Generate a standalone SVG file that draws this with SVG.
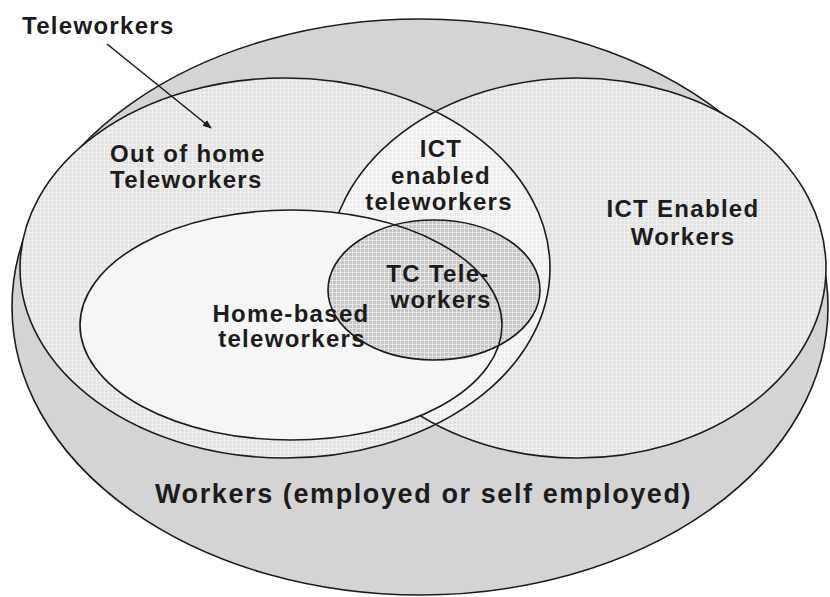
<svg xmlns="http://www.w3.org/2000/svg" width="830" height="597" viewBox="0 0 830 597">
<style>
.ln{fill:none;stroke:#1c1c1c;stroke-width:1.6}
.t{font-family:"Liberation Sans",Arial,sans-serif;font-weight:bold;font-size:24px;fill:#1c1c1c;letter-spacing:1.3px}
.c{text-anchor:middle}
</style>
<defs>
<pattern id="grid" width="4" height="4" patternUnits="userSpaceOnUse">
<rect width="4" height="4" fill="#e2e2e2"/>
<path d="M0 0.5H4M0.5 0V4" stroke="#f0f0f0" stroke-width="1"/>
</pattern>
<pattern id="gridLight" width="4" height="4" patternUnits="userSpaceOnUse">
<rect width="4" height="4" fill="#eeeeee"/>
<path d="M0 0.5H4M0.5 0V4" stroke="#f8f8f8" stroke-width="1"/>
</pattern>
<pattern id="gridDark" width="4" height="4" patternUnits="userSpaceOnUse">
<rect width="4" height="4" fill="#c6c6c6"/>
<path d="M0 0.5H4M0.5 0V4" stroke="#e6e6e6" stroke-width="1"/>
</pattern>
<clipPath id="clipTele"><ellipse cx="285" cy="268" rx="265" ry="190"/></clipPath>
<marker id="arr" viewBox="0 0 10 10" refX="9" refY="5" markerWidth="9" markerHeight="9" orient="auto" markerUnits="userSpaceOnUse">
<path d="M0 1L10 5L0 9Z" fill="#1c1c1c"/>
</marker>
</defs>

<g id="workers">
<ellipse cx="420" cy="307" rx="408" ry="288" fill="#d4d4d4"/>
<ellipse class="ln" cx="420" cy="307" rx="408" ry="288"/>
</g>
<g id="out-of-home-teleworkers">
<ellipse cx="285" cy="268" rx="265" ry="190" fill="url(#grid)"/>
</g>
<g id="ict-enabled-workers">
<ellipse cx="577" cy="268" rx="249" ry="190" fill="url(#grid)"/>
</g>
<g id="ict-enabled-teleworkers">
<ellipse cx="577" cy="268" rx="249" ry="190" fill="url(#gridLight)" clip-path="url(#clipTele)"/>
<ellipse class="ln" cx="577" cy="268" rx="249" ry="190"/>
</g>
<g id="home-based-teleworkers">
<ellipse cx="291" cy="325" rx="211" ry="115" fill="#f6f6f6"/>
</g>
<g id="tc-teleworkers">
<ellipse cx="434" cy="290" rx="106" ry="70" fill="url(#gridDark)"/>
</g>

<g id="outlines">
<ellipse class="ln" cx="285" cy="268" rx="265" ry="190"/>
<ellipse class="ln" cx="291" cy="325" rx="211" ry="115"/>
<ellipse class="ln" cx="434" cy="290" rx="106" ry="70"/>
</g>

<g id="connectors">
<line x1="107" y1="44" x2="211" y2="128" stroke="#1c1c1c" stroke-width="1.6" marker-end="url(#arr)"/>
</g>

<g id="labels">
<text class="t" x="22" y="34">Teleworkers</text>
<text class="t" x="110" y="162">Out of home</text>
<text class="t" x="110" y="188">Teleworkers</text>
<text class="t c" x="441" y="157">ICT</text>
<text class="t c" x="441" y="184">enabled</text>
<text class="t c" x="439" y="210">teleworkers</text>
<text class="t c" x="683" y="217">ICT Enabled</text>
<text class="t c" x="683" y="245">Workers</text>
<text class="t c" x="438" y="282">TC Tele-</text>
<text class="t c" x="441" y="308">workers</text>
<text class="t c" x="291" y="322">Home-based</text>
<text class="t c" x="292" y="347">teleworkers</text>
<text class="t" x="155" y="503" style="font-size:27px;letter-spacing:1.6px">Workers (employed or self employed)</text>
</g>
</svg>
